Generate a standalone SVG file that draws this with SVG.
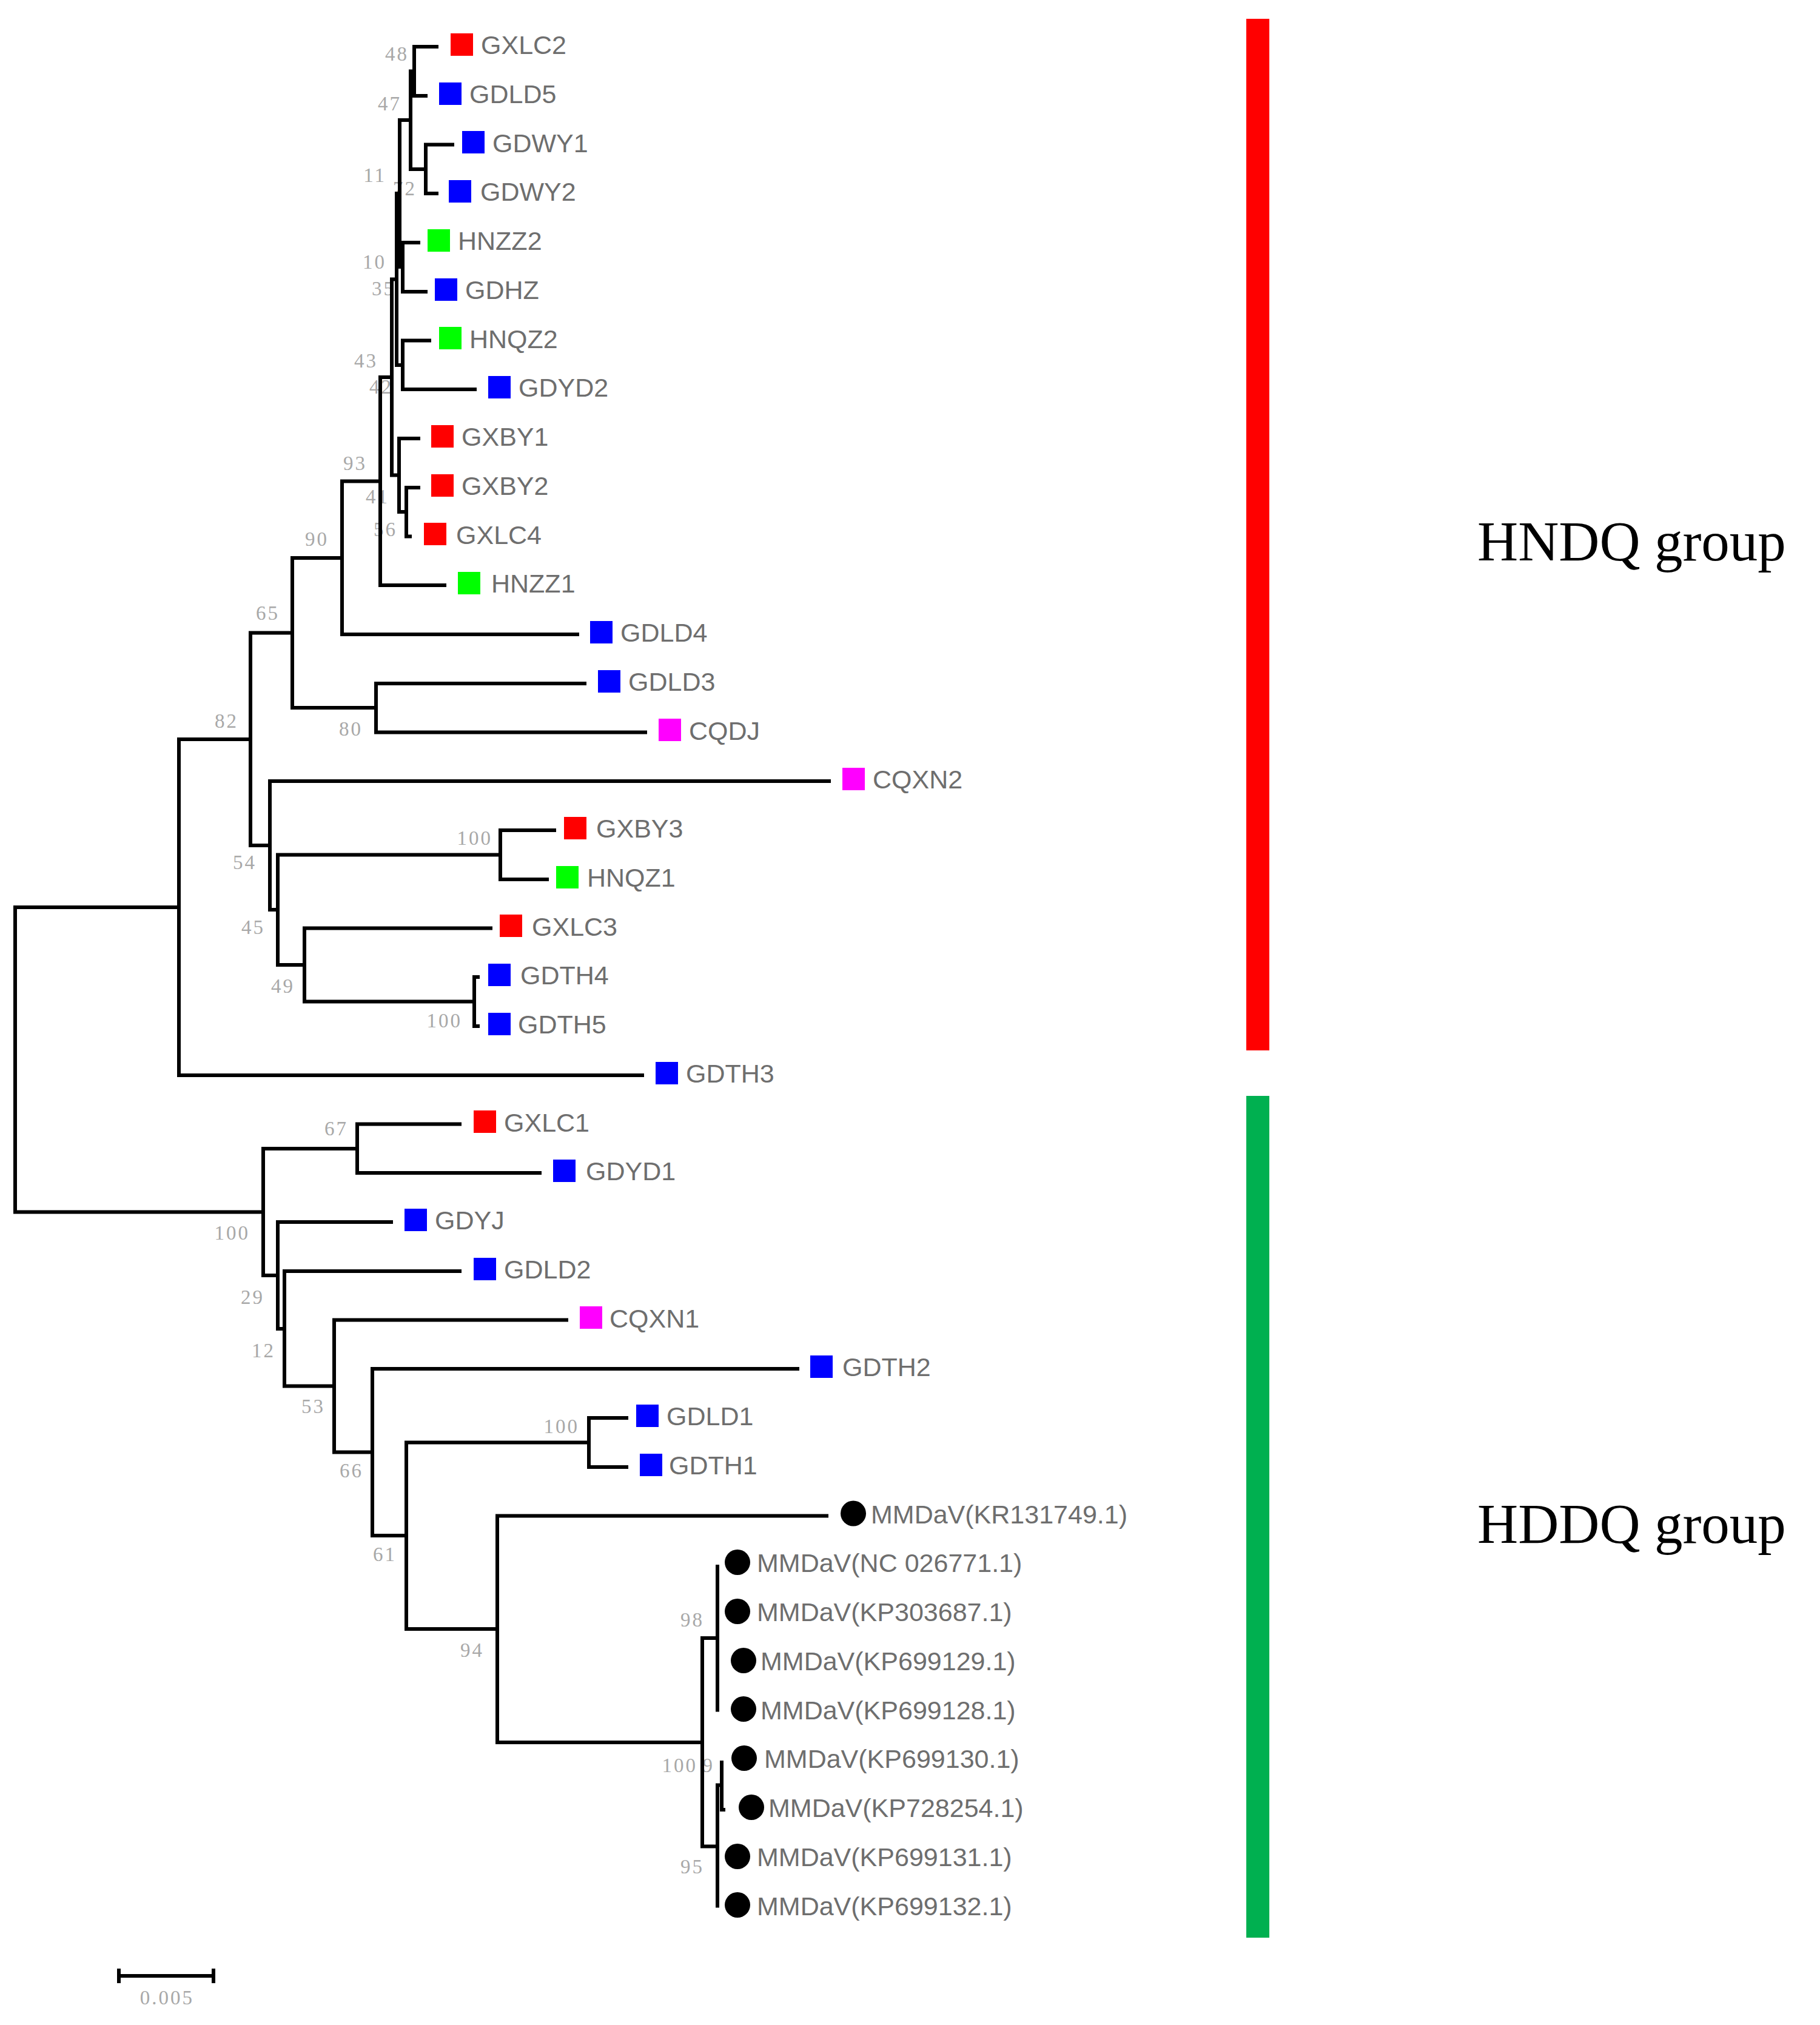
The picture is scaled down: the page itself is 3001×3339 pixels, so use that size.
<svg xmlns="http://www.w3.org/2000/svg" width="3001" height="3339" viewBox="0 0 3001 3339">
<style>
.br{fill:none;stroke:#000;stroke-width:6;stroke-linejoin:miter;stroke-linecap:butt}
.lb{font-family:"Liberation Sans",Arial,sans-serif;font-size:43px;fill:#6e6e6e}
.bs{font-family:"Liberation Serif","Times New Roman",serif;font-size:33px;fill:#a8a8a8;letter-spacing:3px;text-anchor:end}
.grp{font-family:"Liberation Serif","Times New Roman",serif;font-size:93px;fill:#000}
.r{fill:#ff0000}.b{fill:#0000ff}.g{fill:#00ff00}.m{fill:#ff00ff}.k{fill:#000}
</style>
<rect width="3001" height="3339" fill="#fff"/>

<g id="bootstrap">
<text class="bs" x="674" y="100">48</text>
<text class="bs" x="662" y="182">47</text>
<text class="bs" x="637" y="300">11</text>
<text class="bs" x="687" y="322">72</text>
<text class="bs" x="637" y="443">10</text>
<text class="bs" x="652" y="487">35</text>
<text class="bs" x="623" y="606">43</text>
<text class="bs" x="648" y="649">42</text>
<text class="bs" x="605" y="775">93</text>
<text class="bs" x="642" y="830">41</text>
<text class="bs" x="655" y="884">56</text>
<text class="bs" x="542" y="900">90</text>
<text class="bs" x="461" y="1022">65</text>
<text class="bs" x="598" y="1213">80</text>
<text class="bs" x="393" y="1200">82</text>
<text class="bs" x="812" y="1393">100</text>
<text class="bs" x="423" y="1433">54</text>
<text class="bs" x="437" y="1540">45</text>
<text class="bs" x="486" y="1637">49</text>
<text class="bs" x="762" y="1694">100</text>
<text class="bs" x="574" y="1872">67</text>
<text class="bs" x="412" y="2044">100</text>
<text class="bs" x="436" y="2150">29</text>
<text class="bs" x="454" y="2238">12</text>
<text class="bs" x="536" y="2330">53</text>
<text class="bs" x="599" y="2436">66</text>
<text class="bs" x="654" y="2574">61</text>
<text class="bs" x="955" y="2363">100</text>
<text class="bs" x="798" y="2732">94</text>
<text class="bs" x="1161" y="2682">98</text>
<text class="bs" x="1150" y="2922">100</text>
<text class="bs" x="1178" y="2922">9</text>
<text class="bs" x="1161" y="3089">95</text>
</g>

<g id="connectors">
<path class="br" d="M723 77 H683 V158 H705"/>
<path class="br" d="M749 238.5 H702 V319 H723"/>
<path class="br" d="M683 117.5 H677 V279 H702"/>
<path class="br" d="M693 400 H664 V481 H705"/>
<path class="br" d="M677 198 H659 V440 H664"/>
<path class="br" d="M711 561.5 H664 V642 H786"/>
<path class="br" d="M659 319 H654 V602 H664"/>
<path class="br" d="M693 804 H670 V884.5 H679"/>
<path class="br" d="M693 723 H658 V844 H670"/>
<path class="br" d="M654 460.5 H646 V783.5 H658"/>
<path class="br" d="M646 622 H627 V965 H736"/>
<path class="br" d="M627 793.5 H564 V1046 H955"/>
<path class="br" d="M967 1127 H620 V1207.5 H1067"/>
<path class="br" d="M564 920 H482 V1167 H620"/>
<path class="br" d="M917 1369 H825 V1450 H905"/>
<path class="br" d="M791 1611 H782 V1692 H791"/>
<path class="br" d="M812 1530.5 H502 V1651.5 H782"/>
<path class="br" d="M825 1409.5 H458 V1591 H502"/>
<path class="br" d="M1370 1288 H445 V1500 H458"/>
<path class="br" d="M482 1043.5 H413 V1394 H445"/>
<path class="br" d="M413 1219 H295 V1773 H1062"/>
<path class="br" d="M295 1496 H25 V1998.5 H434"/>
<path class="br" d="M761 1853.5 H589 V1934 H893"/>
<path class="br" d="M589 1894 H434 V2103 H458"/>
<path class="br" d="M648 2015 H458 V2191 H469"/>
<path class="br" d="M761 2096 H469 V2285.5 H551"/>
<path class="br" d="M937 2176.5 H551 V2394.5 H614"/>
<path class="br" d="M1318 2257 H614 V2532 H670"/>
<path class="br" d="M971 2378.5 H670 V2686 H820"/>
<path class="br" d="M1036 2338 H971 V2419 H1036"/>
<path class="br" d="M1366 2499.5 H820 V2873 H1158"/>
<path class="br" d="M1183 2701 H1158 V3044.5 H1183"/>
<path class="br" d="M1183 2580 V2822.5"/>
<path class="br" d="M1190 2943.5 H1183 V3145.5"/>
<path class="br" d="M1190 2903 V2984 H1196"/>
</g>

<g id="GXLC2"><rect class="r" x="743" y="55" width="37" height="37"/><text class="lb" x="793" y="89">GXLC2</text></g>
<g id="GDLD5"><rect class="b" x="724" y="136" width="37" height="37"/><text class="lb" x="774" y="170">GDLD5</text></g>
<g id="GDWY1"><rect class="b" x="762" y="216" width="37" height="37"/><text class="lb" x="812" y="251">GDWY1</text></g>
<g id="GDWY2"><rect class="b" x="740" y="297" width="37" height="37"/><text class="lb" x="792" y="331">GDWY2</text></g>
<g id="HNZZ2"><rect class="g" x="705" y="378" width="37" height="37"/><text class="lb" x="755" y="412">HNZZ2</text></g>
<g id="GDHZ"><rect class="b" x="717" y="459" width="37" height="37"/><text class="lb" x="767" y="493">GDHZ</text></g>
<g id="HNQZ2"><rect class="g" x="724" y="539" width="37" height="37"/><text class="lb" x="774" y="574">HNQZ2</text></g>
<g id="GDYD2"><rect class="b" x="805" y="620" width="37" height="37"/><text class="lb" x="855" y="654">GDYD2</text></g>
<g id="GXBY1"><rect class="r" x="711" y="701" width="37" height="37"/><text class="lb" x="761" y="735">GXBY1</text></g>
<g id="GXBY2"><rect class="r" x="711" y="782" width="37" height="37"/><text class="lb" x="761" y="816">GXBY2</text></g>
<g id="GXLC4"><rect class="r" x="699" y="862" width="37" height="37"/><text class="lb" x="752" y="897">GXLC4</text></g>
<g id="HNZZ1"><rect class="g" x="755" y="943" width="37" height="37"/><text class="lb" x="810" y="977">HNZZ1</text></g>
<g id="GDLD4"><rect class="b" x="973" y="1024" width="37" height="37"/><text class="lb" x="1023" y="1058">GDLD4</text></g>
<g id="GDLD3"><rect class="b" x="986" y="1105" width="37" height="37"/><text class="lb" x="1036" y="1139">GDLD3</text></g>
<g id="CQDJ"><rect class="m" x="1086" y="1185" width="37" height="37"/><text class="lb" x="1136" y="1220">CQDJ</text></g>
<g id="CQXN2"><rect class="m" x="1389" y="1266" width="37" height="37"/><text class="lb" x="1439" y="1300">CQXN2</text></g>
<g id="GXBY3"><rect class="r" x="930" y="1347" width="37" height="37"/><text class="lb" x="983" y="1381">GXBY3</text></g>
<g id="HNQZ1"><rect class="g" x="917" y="1428" width="37" height="37"/><text class="lb" x="968" y="1462">HNQZ1</text></g>
<g id="GXLC3"><rect class="r" x="824" y="1508" width="37" height="37"/><text class="lb" x="877" y="1543">GXLC3</text></g>
<g id="GDTH4"><rect class="b" x="805" y="1589" width="37" height="37"/><text class="lb" x="858" y="1623">GDTH4</text></g>
<g id="GDTH5"><rect class="b" x="805" y="1670" width="37" height="37"/><text class="lb" x="854" y="1704">GDTH5</text></g>
<g id="GDTH3"><rect class="b" x="1081" y="1751" width="37" height="37"/><text class="lb" x="1131" y="1785">GDTH3</text></g>
<g id="GXLC1"><rect class="r" x="781" y="1831" width="37" height="37"/><text class="lb" x="831" y="1866">GXLC1</text></g>
<g id="GDYD1"><rect class="b" x="912" y="1912" width="37" height="37"/><text class="lb" x="966" y="1946">GDYD1</text></g>
<g id="GDYJ"><rect class="b" x="667" y="1993" width="37" height="37"/><text class="lb" x="717" y="2027">GDYJ</text></g>
<g id="GDLD2"><rect class="b" x="781" y="2074" width="37" height="37"/><text class="lb" x="831" y="2108">GDLD2</text></g>
<g id="CQXN1"><rect class="m" x="956" y="2154" width="37" height="37"/><text class="lb" x="1005" y="2189">CQXN1</text></g>
<g id="GDTH2"><rect class="b" x="1336" y="2235" width="37" height="37"/><text class="lb" x="1389" y="2269">GDTH2</text></g>
<g id="GDLD1"><rect class="b" x="1049" y="2316" width="37" height="37"/><text class="lb" x="1099" y="2350">GDLD1</text></g>
<g id="GDTH1"><rect class="b" x="1055" y="2397" width="37" height="37"/><text class="lb" x="1103" y="2431">GDTH1</text></g>
<g id="KR131749"><circle class="k" cx="1407" cy="2495.5" r="21"/><text class="lb" x="1436" y="2512">MMDaV(KR131749.1)</text></g>
<g id="NC_026771"><circle class="k" cx="1216" cy="2576" r="21"/><text class="lb" x="1248" y="2592">MMDaV(NC 026771.1)</text></g>
<g id="KP303687"><circle class="k" cx="1216" cy="2657" r="21"/><text class="lb" x="1248" y="2673">MMDaV(KP303687.1)</text></g>
<g id="KP699129"><circle class="k" cx="1226" cy="2738" r="21"/><text class="lb" x="1254" y="2754">MMDaV(KP699129.1)</text></g>
<g id="KP699128"><circle class="k" cx="1226" cy="2818" r="21"/><text class="lb" x="1254" y="2835">MMDaV(KP699128.1)</text></g>
<g id="KP699130"><circle class="k" cx="1227" cy="2899" r="21"/><text class="lb" x="1260" y="2915">MMDaV(KP699130.1)</text></g>
<g id="KP728254"><circle class="k" cx="1239" cy="2980" r="21"/><text class="lb" x="1267" y="2996">MMDaV(KP728254.1)</text></g>
<g id="KP699131"><circle class="k" cx="1216" cy="3061" r="21"/><text class="lb" x="1248" y="3077">MMDaV(KP699131.1)</text></g>
<g id="KP699132"><circle class="k" cx="1216" cy="3141" r="21"/><text class="lb" x="1248" y="3158">MMDaV(KP699132.1)</text></g>

<g id="HNDQ_group">
<rect x="2055" y="31" width="38" height="1701" fill="#ff0000"/>
<text class="grp" x="2436" y="924">HNDQ group</text>
</g>
<g id="HDDQ_group">
<rect x="2055" y="1807" width="38" height="1388" fill="#00b050"/>
<text class="grp" x="2436" y="2544">HDDQ group</text>
</g>

<g id="scale">
<path class="br" d="M196 3258 H352 M196 3246 V3270 M352 3246 V3270"/>
<text class="bs" x="320" y="3305">0.005</text>
</g>
</svg>
